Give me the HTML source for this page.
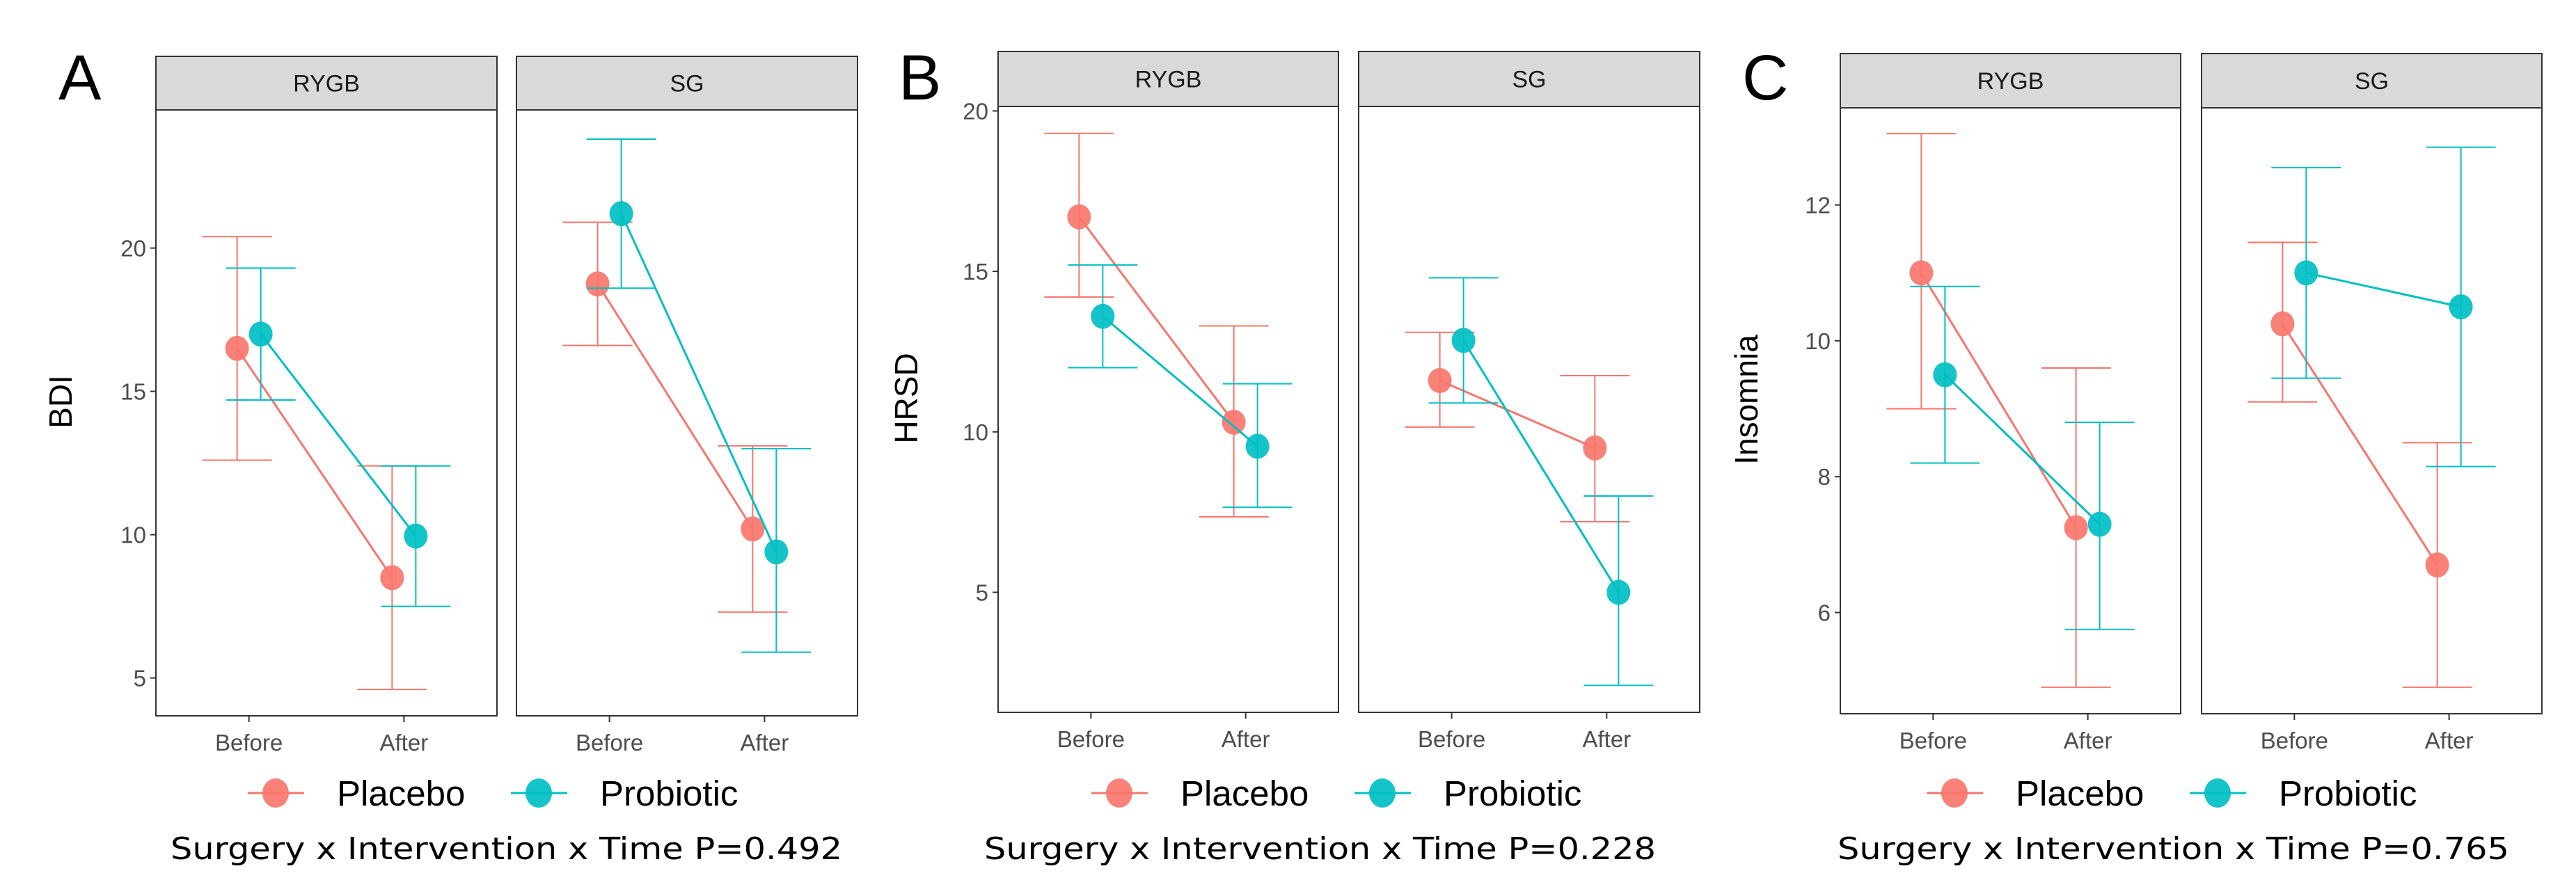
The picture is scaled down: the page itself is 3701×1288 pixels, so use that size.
<!DOCTYPE html>
<html><head><meta charset="utf-8"><style>
html,body{margin:0;padding:0;background:#fff}
svg{display:block}
</style></head><body>
<svg id="fig" width="3701" height="1288" viewBox="0 0 3701 1288" xmlns="http://www.w3.org/2000/svg"></svg>
<script>
const NS="http://www.w3.org/2000/svg";
const facets=["RYGB","SG"];
const times=["Before","After"];
const groups=["Placebo","Probiotic"];
const colors=["#F8766D","#00BFC4"];
// values[facet][group][time]
const bdiMean=[[[16.5,8.5],[17.0,9.95]],[[18.75,10.2],[21.2,9.4]]];
const bdiLo=[[[12.6,4.6],[14.7,7.5]],[[16.6,7.3],[18.6,5.9]]];
const bdiHi=[[[20.4,12.4],[19.3,12.4]],[[20.9,13.1],[23.8,13.0]]];
const bdiTicks=[5,10,15,20];
const hrsdMean=[[[16.7,10.3],[13.6,9.55]],[[11.6,9.5],[12.85,5.0]]];
const hrsdLo=[[[14.2,7.35],[12.0,7.65]],[[10.15,7.2],[10.9,2.1]]];
const hrsdHi=[[[19.3,13.3],[15.2,11.5]],[[13.1,11.75],[14.8,8.0]]];
const hrsdTicks=[5,10,15,20];
const insMean=[[[11.0,7.25],[9.5,7.3]],[[10.25,6.7],[11.0,10.5]]];
const insLo=[[[9.0,4.9],[8.2,5.75]],[[9.1,4.9],[9.45,8.15]]];
const insHi=[[[13.05,9.6],[10.8,8.8]],[[11.45,8.5],[12.55,12.85]]];
const insTicks=[6,8,10,12];
const captions=["Surgery x Intervention x Time P=0.492","Surgery x Intervention x Time P=0.228","Surgery x Intervention x Time P=0.765"];
const letters=["A","B","C"];
const ylabels=["BDI","HRSD","Insomnia"];

const panels=[
 {stripTop:81,top:158,bottom:1029,f:[[224,714],[742,1232]],ymin:3.68,ymax:24.82,mean:bdiMean,lo:bdiLo,hi:bdiHi,ticks:bdiTicks,letterX:84,ylabX:103,legX:396,capX:245},
 {stripTop:74,top:153,bottom:1024,f:[[1434,1923],[1952,2442]],ymin:1.26,ymax:20.14,mean:hrsdMean,lo:hrsdLo,hi:hrsdHi,ticks:hrsdTicks,letterX:1291,ylabX:1318,legX:1608,capX:1414},
 {stripTop:77,top:155,bottom:1026,f:[[2644,3133],[3163,3652]],ymin:4.51,ymax:13.43,mean:insMean,lo:insLo,hi:insHi,ticks:insTicks,letterX:2503,ylabX:2525,legX:2808,capX:2640}
];
const svg=document.getElementById('fig');
function mk(tag,attrs,parent){const e=document.createElementNS(NS,tag);for(const k in attrs)e.setAttribute(k,attrs[k]);(parent||svg).appendChild(e);return e;}
const FONT='"Liberation Sans", sans-serif';

panels.forEach((p,pi)=>{
 const g=mk('g',{});
 
 
 const yS=v=>p.bottom-(v-p.ymin)/(p.ymax-p.ymin)*(p.bottom-p.top);
 const lt=mk('text',{x:p.letterX,y:143,'font-family':FONT,'font-size':92,fill:'#000'},g);
 lt.textContent=letters[pi];
 
 
 const cy=(p.top+p.bottom)/2;
 const yl=mk('text',{x:p.ylabX+16,y:cy,'font-family':FONT,'font-size':46,fill:'#000','text-anchor':'middle',transform:`rotate(-90 ${p.ylabX} ${cy})`},g);
 yl.textContent=ylabels[pi];
 
 
 p.ticks.forEach(t=>{
  const y=yS(t);
  mk('line',{x1:p.f[0][0]-8,x2:p.f[0][0],y1:y,y2:y,stroke:'#333','stroke-width':2},g);
  const tx=mk('text',{x:p.f[0][0]-14,y:y+12,'font-family':FONT,'font-size':33,fill:'#4d4d4d','text-anchor':'end'},g);
  tx.textContent=t;
  
  
 });
 facets.forEach((fn,fi)=>{
  const [x0,x1]=p.f[fi];const w=x1-x0;
  const xS=ti=>x0+w*(0.6+ti)/2.2;
  const strip=mk('rect',{x:x0,y:p.stripTop,width:w,height:p.top-p.stripTop,fill:'#d9d9d9',stroke:'#333','stroke-width':2},g);
  
  
  const st=mk('text',{x:x0+w/2,y:(p.stripTop+p.top)/2+12,'font-family':FONT,'font-size':34,fill:'#1a1a1a','text-anchor':'middle'},g);
  st.textContent=fn;
  
  
  const bx=mk('rect',{x:x0,y:p.top,width:w,height:p.bottom-p.top,fill:'#fff',stroke:'#333','stroke-width':2},g);
  
  
  times.forEach((tn,ti)=>{
   const x=xS(ti);
   mk('line',{x1:x,x2:x,y1:p.bottom,y2:p.bottom+9,stroke:'#333','stroke-width':2},g);
   const tl=mk('text',{x:x,y:p.bottom+50,'font-family':FONT,'font-size':33,fill:'#4d4d4d','text-anchor':'middle'},g);
   tl.textContent=tn;
   
   
  });
  groups.forEach((gn,gi)=>{
   const dx=(gi===0?-17:17);
   const col=colors[gi];
   const pts=times.map((t,ti)=>[xS(ti)+dx,yS(p.mean[fi][gi][ti])]);
   times.forEach((t,ti)=>{
    const x=xS(ti)+dx,yl2=yS(p.lo[fi][gi][ti]),yh=yS(p.hi[fi][gi][ti]);
    const eb=mk('path',{d:`M${x-50},${yh}H${x+50}M${x},${yh}V${yl2}M${x-50},${yl2}H${x+50}`,stroke:col,'stroke-width':2,fill:'none'},g);
    
    
   });
   const ln=mk('line',{x1:pts[0][0],y1:pts[0][1],x2:pts[1][0],y2:pts[1][1],stroke:col,'stroke-width':3},g);
   
   
   pts.forEach(pt=>{
    const c=mk('ellipse',{cx:pt[0],cy:pt[1],rx:17,ry:18,fill:col,'fill-opacity':0.92},g);
    
    
   });
  });
 });
 groups.forEach((gn,gi)=>{
  const cx=p.legX+gi*378;
  const le=mk('g',{},g);
  
  
  mk('line',{x1:cx-40,x2:cx+41,y1:1140,y2:1140,stroke:colors[gi],'stroke-width':3},le);
  mk('ellipse',{cx:cx,cy:1140,rx:19,ry:21,fill:colors[gi],'fill-opacity':0.92},le);
  const t=mk('text',{x:cx+88,y:1158,'font-family':FONT,'font-size':51,fill:'#000'},le);
  t.textContent=gn;
 });
 const cap=mk('text',{x:p.capX,y:1235,'font-family':'"DejaVu Sans", sans-serif','font-size':44,fill:'#000',textLength:965,lengthAdjust:'spacingAndGlyphs'},g);
 cap.textContent=captions[pi];
 
 
});
</script>
</body></html>
